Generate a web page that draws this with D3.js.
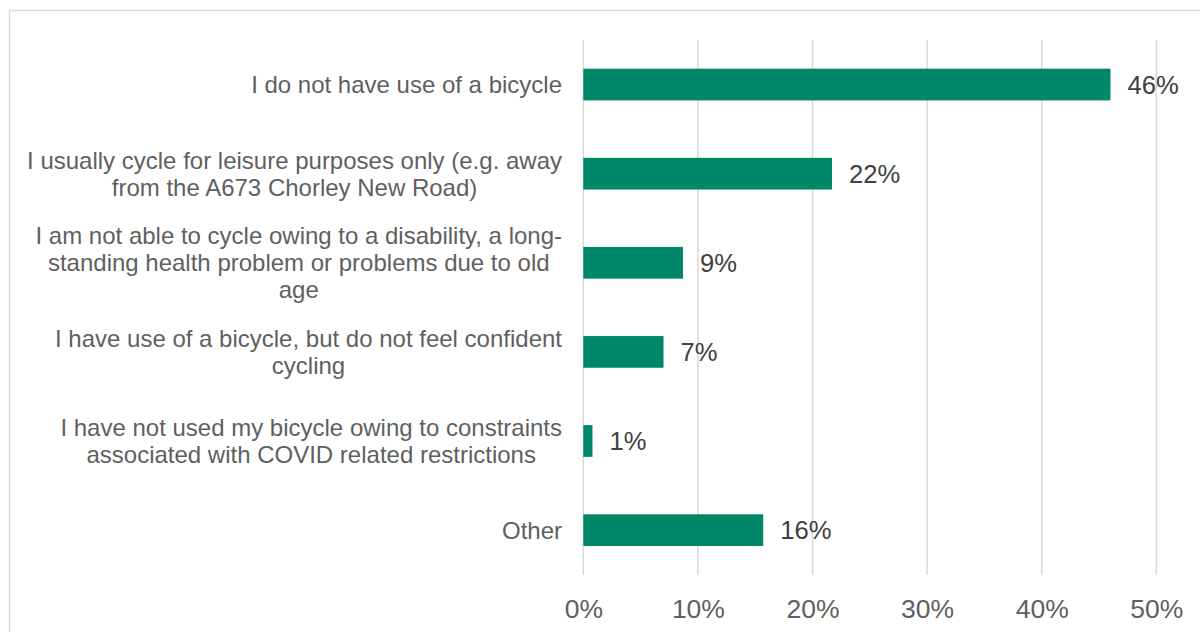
<!DOCTYPE html>
<html>
<head>
<meta charset="utf-8">
<script src="https://cdn.jsdelivr.net/npm/d3@7"></script>
<style>
  html, body { margin: 0; padding: 0; background: #fff; }
  svg { display: block; font-family: "Liberation Sans", Arial, sans-serif; }
</style>
</head>
<body>
<svg id="chart" width="1200" height="632"></svg>
<script>
const categories = [
  "I do not have use of a bicycle",
  "I usually cycle for leisure purposes only (e.g. away\nfrom the A673 Chorley New Road)",
  "I am not able to cycle owing to a disability, a long-\nstanding health problem or problems due to old\nage",
  "I have use of a bicycle, but do not feel confident\ncycling",
  "I have not used my bicycle owing to constraints\nassociated with COVID related restrictions",
  "Other"
];
const values = [46.0, 21.7, 8.7, 7.0, 0.8, 15.7];
const valueLabels = ["46%", "22%", "9%", "7%", "1%", "16%"];
const tickValues = [0, 10, 20, 30, 40, 50];
const tickLabels = ["0%", "10%", "20%", "30%", "40%", "50%"];

(function () {
const svg = d3.select("#chart");
const plotLeft = 583.3, plotRight = 1156.3, plotTop = 40, plotBottom = 574.7;

// outer frame (top and left visible)
svg.append("line").attr("x1", 9).attr("x2", 1200).attr("y1", 10.5).attr("y2", 10.5)
  .attr("stroke", "#d9d9d9").attr("stroke-width", 1.5);
svg.append("line").attr("x1", 9.5).attr("x2", 9.5).attr("y1", 10).attr("y2", 632)
  .attr("stroke", "#d9d9d9").attr("stroke-width", 1.5);

const x = d3.scaleLinear().domain([0, 50]).range([plotLeft, plotRight]);
const y = d3.scaleBand().domain(categories).range([plotTop, plotBottom])
  .paddingInner(0.644).paddingOuter(0.322);

// gridlines
svg.append("g").selectAll("line").data(tickValues).join("line")
  .attr("x1", d => x(d)).attr("x2", d => x(d))
  .attr("y1", plotTop).attr("y2", plotBottom)
  .attr("stroke", "#d9d9d9").attr("stroke-width", 1.5);

// x axis tick labels
const xAxis = d3.axisBottom(x).tickValues(tickValues)
  .tickFormat((d, i) => tickLabels[i]).tickSize(0).tickPadding(0);
const gx = svg.append("g").attr("transform", `translate(0,${plotBottom})`).call(xAxis);
gx.select(".domain").remove();
gx.selectAll("text")
  .attr("y", 43).attr("dy", null)
  .attr("font-size", 26.5).attr("fill", "#5f5f5f")
  .attr("font-family", "'Liberation Sans', Arial, sans-serif");

// bars
svg.append("g").selectAll("rect").data(categories).join("rect")
  .attr("x", x(0))
  .attr("y", d => y(d))
  .attr("width", (d, i) => x(values[i]) - x(0))
  .attr("height", y.bandwidth())
  .attr("fill", "#008768");

// value labels
svg.append("g").selectAll("text").data(categories).join("text")
  .attr("x", (d, i) => x(values[i]) + 17)
  .attr("y", d => y(d) + y.bandwidth() / 2 + 9.2)
  .attr("font-size", 25.6)
  .attr("fill", "#404040")
  .text((d, i) => valueLabels[i]);

// category labels: block right-aligned, lines centred within the block
const labelRight = 562;
const lineH = 27;
const fs = 24;
const lg = svg.append("g");
categories.forEach(cat => {
  const lines = cat.split("\n");
  const g = lg.append("g");
  const cy = y(cat) + y.bandwidth() / 2;
  const texts = lines.map((ln, j) =>
    g.append("text")
      .attr("font-size", fs)
      .attr("fill", "#5f5f5f")
      .attr("text-anchor", "middle")
      .attr("y", cy + (j - (lines.length - 1) / 2) * lineH + fs * 0.36)
      .text(ln)
  );
  const maxW = d3.max(texts, t => t.node().getComputedTextLength());
  texts.forEach(t => t.attr("x", labelRight - maxW / 2));
});
})();
</script>
</body>
</html>
